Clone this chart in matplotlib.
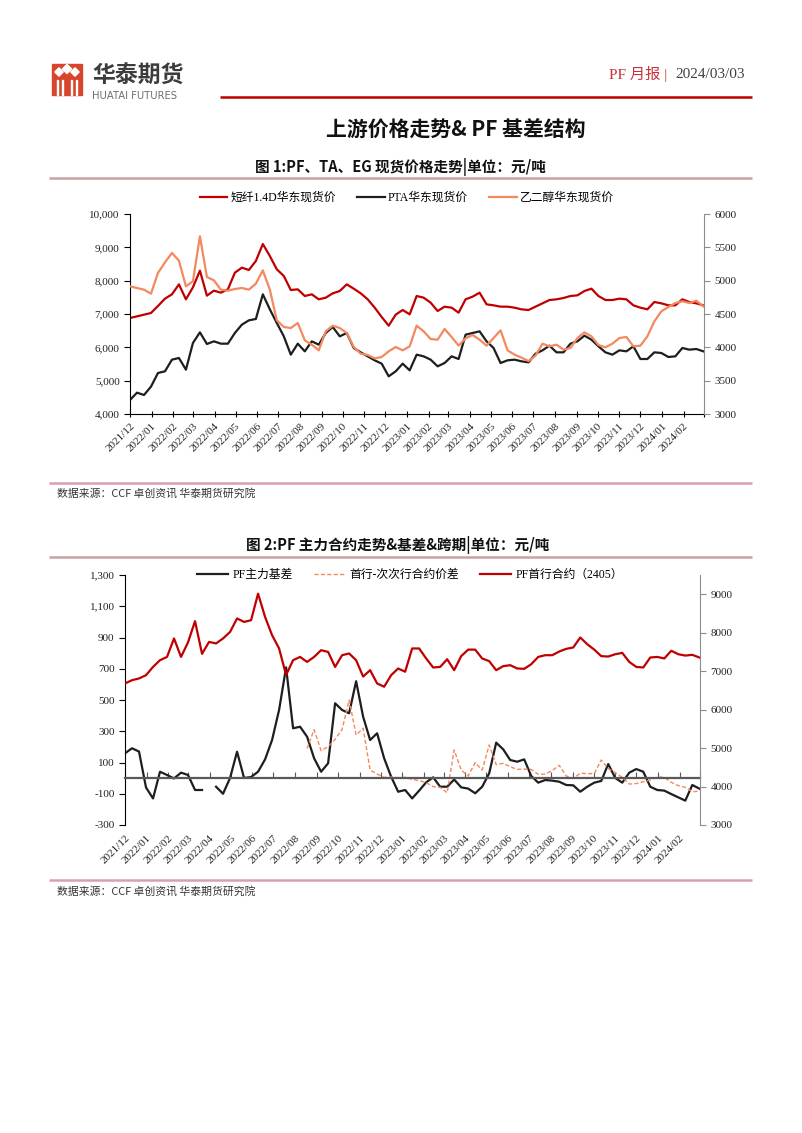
import numpy as np
import pandas as pd
import matplotlib
matplotlib.use('Agg')
import matplotlib.pyplot as plt
import matplotlib.dates as mdates
from matplotlib.ticker import FuncFormatter
from matplotlib.patches import Rectangle, Polygon

SERIF = ['Liberation Serif', 'Noto Sans CJK SC']
CJK = ['Noto Sans CJK SC', 'DejaVu Sans']
plt.rcParams['font.family'] = SERIF
plt.rcParams['axes.unicode_minus'] = False

# ---- data (one point every 10 days) ----
dates = pd.date_range('2021-12-01', periods=83, freq='10D')

# figure 1: spot prices (PF, PTA on left axis; EG on right axis)
pf_spot = [6880, 6930, 6980, 7030, 7240, 7460, 7590, 7890, 7440, 7800,
           8300, 7550, 7700, 7640, 7740, 8240, 8390, 8320, 8590, 9100,
           8740, 8340, 8140, 7720, 7740, 7540, 7590, 7440, 7490, 7620,
           7690, 7890, 7760, 7620, 7440, 7190, 6910, 6650, 6980, 7120,
           6990, 7540, 7490, 7340, 7090, 7220, 7190, 7040, 7440, 7520,
           7640, 7290, 7260, 7220, 7220, 7190, 7140, 7120, 7220, 7320,
           7420, 7440, 7480, 7540, 7560, 7690, 7760, 7540, 7420, 7420,
           7460, 7440, 7260, 7190, 7140, 7360, 7320, 7260, 7260, 7440,
           7360, 7320, 7260]
pta_spot = [4420, 4640, 4570, 4820, 5230, 5280, 5630, 5680, 5330, 6130,
            6450, 6100, 6180, 6110, 6110, 6430, 6680, 6810, 6850, 7590,
            7140, 6730, 6330, 5780, 6110, 5880, 6180, 6080, 6430, 6610,
            6330, 6430, 5980, 5850, 5730, 5610, 5510, 5130, 5280, 5510,
            5310, 5780, 5730, 5630, 5430, 5530, 5730, 5650, 6380, 6430,
            6480, 6180, 5980, 5530, 5610, 5630, 5580, 5550, 5810, 5910,
            6050, 5850, 5850, 6110, 6180, 6350, 6230, 6030, 5850, 5780,
            5910, 5880, 6030, 5650, 5650, 5850, 5830, 5710, 5730, 5980,
            5930, 5950, 5880]
eg_spot = [4915, 4890, 4865, 4805, 5115, 5275, 5415, 5300, 4915, 4990,
           5665, 5055, 5005, 4865, 4850, 4875, 4890, 4865, 4955, 5155,
           4865, 4405, 4305, 4290, 4365, 4105, 4040, 3955, 4240, 4325,
           4290, 4215, 4005, 3905, 3885, 3835, 3855, 3940, 4005, 3955,
           4015, 4325, 4240, 4125, 4115, 4275, 4155, 4025, 4135, 4185,
           4115, 4025, 4140, 4255, 3955, 3890, 3845, 3795, 3875, 4055,
           4015, 4040, 3965, 3990, 4140, 4225, 4165, 4035, 4000, 4055,
           4140, 4155, 4015, 4025, 4165, 4390, 4540, 4605, 4665, 4690,
           4665, 4700, 4615]

# figure 2: basis & spread (left axis), main contract (right axis)
nan = np.nan
pf_basis = [159, 191, 170, -60, -130, 41, 20, -2, 35, 20,
            -76, -76, nan, -55, -100, 1, 169, 1, 7, 41,
            120, 244, 436, 709, 319, 329, 265, 127, 41, 95,
            479, 436, 415, 620, 393, 244, 287, 127, 9, -87,
            -76, -130, -80, -27, 5, -55, -55, -9, -59, -67,
            -97, -55, 31, 227, 184, 116, 105, 120, 14, -29,
            -12, -16, -23, -44, -46, -87, -55, -29, -18, 90,
            1, -29, 35, 58, 41, -55, -76, -80, -102, -123,
            -144, -44, -67]
pf_spread = [nan] * 26 + [190, 310, 176, 201,
             248, 312, 500, 276, 319, 52, 26, 5, 7, 3,
             5, -8, -16, -29, -55, -59, -93, 180, 52, 14,
             99, 52, 212, 86, 95, 73, 56, 58, 56, 24,
             26, 48, 82, 14, -2, 31, 29, 29, 116, 61,
             35, 5, -38, -35, -23, -12, 7, 5, -27, -48,
             -59, -87, -84]
pf_main = [6680, 6765, 6810, 6895, 7110, 7285, 7370, 7850, 7370, 7750,
           8300, 7450, 7760, 7720, 7850, 8020, 8370, 8280, 8325, 9015,
           8410, 7935, 7590, 6900, 7285, 7370, 7240, 7370, 7545, 7500,
           7110, 7415, 7460, 7285, 6860, 7025, 6680, 6595, 6895, 7070,
           6985, 7590, 7590, 7330, 7095, 7110, 7310, 7025, 7390, 7560,
           7560, 7330, 7260, 7025, 7130, 7155, 7070, 7060, 7180, 7370,
           7415, 7415, 7510, 7580, 7615, 7875, 7700, 7560, 7390, 7380,
           7440, 7475, 7240, 7110, 7095, 7355, 7370, 7330, 7530, 7440,
           7405, 7425, 7355]

month_ticks = pd.date_range('2021-12-01', '2024-03-01', freq='MS')
month_labels = [d.strftime('%Y/%m') for d in month_ticks[:-1]] + ['']

RED = '#c00000'
BLACK = '#1e1e1e'
ORANGE = '#f4885e'

W, H = 802, 1133
fig = plt.figure(figsize=(W / 100, H / 100), dpi=100)

# background layer in pixel coordinates for the page decoration
bg = fig.add_axes([0, 0, 1, 1])
bg.set_xlim(0, W)
bg.set_ylim(H, 0)
bg.axis('off')

# logo
bg.add_patch(Rectangle((52, 64), 30, 31, color='#d9452c'))
for cx, cy, r in [(59, 72, 4.2), (67, 69, 4.6), (75, 72, 4.2)]:
    bg.add_patch(Polygon([(cx, cy - r), (cx + r, cy), (cx, cy + r), (cx - r, cy)],
                         closed=True, color='white'))
for xb in [57.5, 62.5, 71.5, 76.5]:
    bg.add_patch(Rectangle((xb - 0.8, 80), 1.6, 15, color='white'))
bg.text(92, 76, '华泰期货', fontsize=16.5, fontweight='bold', color='#3c3c3c',
        family=CJK, va='center', ha='left')
bg.text(92, 96, 'HUATAI FUTURES', fontsize=7.2, color='#6e6e6e',
        family='DejaVu Sans', va='center', ha='left')

bg.text(667, 74, 'PF 月报 |', fontsize=11, color='#c8323c', family=SERIF,
        va='center', ha='right')
bg.text(675, 74, '2024/03/03', fontsize=11, color='#404040', family=SERIF,
        va='center', ha='left')
bg.plot([220, 752], [96.5, 96.5], color=RED, lw=1.8, solid_capstyle='butt')

bg.text(456, 130, '上游价格走势& PF 基差结构', fontsize=15, fontweight='bold',
        family=CJK, ha='center', va='center', color='#111111')

# captions, rules and sources
bg.text(400, 167, '图 1:PF、TA、EG 现货价格走势|单位：元/吨', fontsize=10.5,
        fontweight='bold', family=CJK, ha='center', va='center', color='#111111')
bg.plot([49, 752], [178, 178], color='#c9a3a6', lw=1.8, solid_capstyle='butt')
bg.plot([49, 752], [482.5, 482.5], color='#d9a0ae', lw=1.8, solid_capstyle='butt')
bg.text(57, 493, '数据来源：CCF 卓创资讯 华泰期货研究院', fontsize=7.8,
        family=CJK, ha='left', va='center', color='#333333')

bg.text(398, 545, '图 2:PF 主力合约走势&基差&跨期|单位：元/吨', fontsize=10.5,
        fontweight='bold', family=CJK, ha='center', va='center', color='#111111')
bg.plot([49, 752], [557, 557], color='#c9a3a6', lw=1.8, solid_capstyle='butt')
bg.plot([49, 752], [880, 880], color='#d9a0ae', lw=1.8, solid_capstyle='butt')
bg.text(57, 891, '数据来源：CCF 卓创资讯 华泰期货研究院', fontsize=7.8,
        family=CJK, ha='left', va='center', color='#333333')

x = mdates.date2num(dates)
xt = mdates.date2num(month_ticks)
xlim = (xt[0], xt[-1])
thousands = FuncFormatter(lambda v, p: f'{int(v):,}')
plain = FuncFormatter(lambda v, p: f'{int(v)}')


def style_axes(ax, axr):
    ax.set_facecolor('none')
    for s in ['top', 'right']:
        ax.spines[s].set_visible(False)
    for s in ['top', 'left', 'bottom']:
        axr.spines[s].set_visible(False)
    ax.spines['left'].set_color('#000000')
    axr.spines['right'].set_color('#8c8c8c')
    ax.tick_params(axis='y', direction='out', length=4, labelsize=8,
                   colors='#000000', labelcolor='#222222')
    axr.tick_params(axis='y', direction='out', length=4, labelsize=8,
                    colors='#8c8c8c', labelcolor='#222222')


# ---- figure 1 ----
ax1 = fig.add_axes([130 / W, 1 - 414 / H, 574 / W, 200 / H])
ax1r = ax1.twinx()
l1, = ax1.plot(x, pf_spot, color=RED, lw=1.6, label='短纤1.4D华东现货价')
l2, = ax1.plot(x, pta_spot, color=BLACK, lw=1.6, label='PTA华东现货价')
l3, = ax1r.plot(x, eg_spot, color=ORANGE, lw=1.6, label='乙二醇华东现货价')
ax1.set_xlim(xlim)
ax1.set_ylim(4000, 10000)
ax1.set_yticks(np.arange(4000, 10001, 1000))
ax1.yaxis.set_major_formatter(thousands)
ax1r.set_ylim(3000, 6000)
ax1r.set_yticks(np.arange(3000, 6001, 500))
ax1r.yaxis.set_major_formatter(plain)
style_axes(ax1, ax1r)
ax1.spines['bottom'].set_color('#000000')
ax1.set_xticks(xt)
ax1.set_xticklabels(month_labels, rotation=45, ha='right',
                    rotation_mode='anchor')
ax1.tick_params(axis='x', direction='inout', length=5, labelsize=8,
                labelcolor='#222222', pad=3)

fig.legend([l1, l2, l3], [l.get_label() for l in [l1, l2, l3]],
           loc='center', bbox_to_anchor=(407 / W, 1 - 198 / H), ncol=3,
           frameon=False, prop={'family': SERIF, 'size': 8.5},
           handlelength=2.3, handletextpad=0.3, columnspacing=1.8)

# ---- figure 2 ----
ax2 = fig.add_axes([125 / W, 1 - 825 / H, 575 / W, 250 / H])
ax2r = ax2.twinx()
m1, = ax2.plot(x, pf_basis, color=BLACK, lw=1.6, label='PF主力基差')
m2, = ax2.plot(x, pf_spread, color=ORANGE, lw=1.0, ls=(0, (3, 1.6)),
               label='首行-次次行合约价差')
m3, = ax2r.plot(x, pf_main, color=RED, lw=1.6, label='PF首行合约（2405）')
ax2.set_xlim(xlim)
ax2.set_ylim(-300, 1300)
ax2.set_yticks(np.arange(-300, 1301, 200))
ax2.yaxis.set_major_formatter(thousands)
ax2r.set_ylim(3000, 9500)
ax2r.set_yticks(np.arange(3000, 9001, 1000))
ax2r.yaxis.set_major_formatter(plain)
style_axes(ax2, ax2r)
ax2.spines['bottom'].set_position(('data', 0))
ax2.spines['bottom'].set_color('#595959')
ax2.spines['bottom'].set_linewidth(1.6)
ax2.set_xticks(xt)
ax2.tick_params(axis='x', direction='in', length=4, color='#595959',
                labelbottom=False)
sec = ax2.secondary_xaxis('bottom')
sec.set_xticks(xt)
sec.set_xticklabels(month_labels, rotation=45, ha='right',
                    rotation_mode='anchor')
sec.spines['bottom'].set_visible(False)
sec.tick_params(axis='x', length=0, labelsize=8, labelcolor='#222222', pad=6)

fig.legend([m1, m2, m3], [l.get_label() for l in [m1, m2, m3]],
           loc='center', bbox_to_anchor=(410 / W, 1 - 575 / H), ncol=3,
           frameon=False, prop={'family': SERIF, 'size': 8.5},
           handlelength=2.6, handletextpad=0.4, columnspacing=1.8)

fig.savefig('out.png', dpi=100, facecolor='white')
